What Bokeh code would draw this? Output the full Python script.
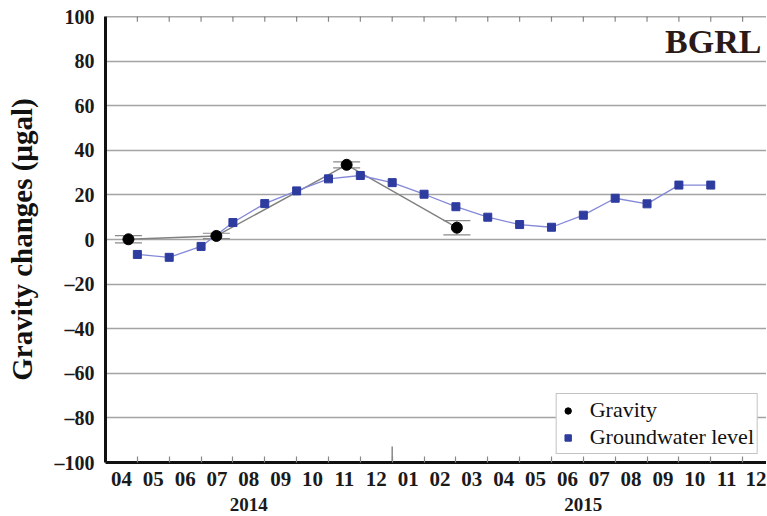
from bokeh.plotting import figure
from bokeh.models import (ColumnDataSource, FixedTicker, LinearAxis, Range1d, Whisker,
                          TeeHead, Label, Legend, LegendItem, Span)
from bokeh.embed import file_html
from bokeh.resources import INLINE

# ---------------- data ----------------
month_labels = ["04", "05", "06", "07", "08", "09", "10", "11", "12",
                "01", "02", "03", "04", "05", "06", "07", "08", "09", "10", "11", "12"]
year_labels = ["2014", "2015"]
year_month_counts = [9, 12]

# groundwater level (month index from 2014-04-01)
gw_month = [1, 2, 3, 4, 5, 6, 7, 8, 9, 10, 11, 12, 13, 14, 15, 16, 17, 18, 19]
gw_value = [-6.7, -8.0, -3.1, 7.6, 16.1, 21.8, 27.2, 28.7, 25.5, 20.3,
            14.7, 10.0, 6.7, 5.5, 10.9, 18.5, 16.0, 24.4, 24.4]

# gravity observations
grav_month = [0.72, 3.48, 7.57, 11.03]
grav_value = [0.1, 1.6, 33.5, 5.3]
grav_err = [1.6, 1.2, 1.35, 3.2]

y_ticks = [-100, -80, -60, -40, -20, 0, 20, 40, 60, 80, 100]
y_tick_labels = ["\u2013100", "\u201380", "\u201360", "\u201340", "\u201320", "0",
                 "20", "40", "60", "80", "100"]

FONT = "Liberation Serif"

# derived
n_months = len(month_labels)
month_centers = [i + 0.5 for i in range(n_months)]
month_bounds = list(range(n_months + 1))
year_edges = [0]
for c in year_month_counts:
    year_edges.append(year_edges[-1] + c)
year_centers = [(year_edges[i] + year_edges[i + 1]) / 2 for i in range(len(year_labels))]
year_breaks = year_edges[1:-1]

Y0, Y1 = y_ticks[0], y_ticks[-1]
X0, X1 = 0, 20.75

gw_src = ColumnDataSource(dict(x=gw_month, y=gw_value))
grav_src = ColumnDataSource(dict(
    x=grav_month, y=grav_value,
    lo=[v - e for v, e in zip(grav_value, grav_err)],
    hi=[v + e for v, e in zip(grav_value, grav_err)]))

p = figure(width=766, height=515, x_range=Range1d(X0, X1), y_range=Range1d(Y0, Y1),
           output_backend="svg", toolbar_location=None,
           min_border_left=105, min_border_right=0, min_border_top=16, min_border_bottom=53)
p.outline_line_color = None
p.xgrid.visible = False
p.ygrid.ticker = FixedTicker(ticks=y_ticks)
p.ygrid.grid_line_color = "#a3a3a3"
p.ygrid.grid_line_width = 1.3

# left axis
ya = p.yaxis[0]
ya.ticker = FixedTicker(ticks=y_ticks)
ya.major_label_overrides = {t: l for t, l in zip(y_ticks, y_tick_labels)}
ya.major_label_text_font = FONT
ya.major_label_text_font_style = "bold"
ya.major_label_text_font_size = "20px"
ya.major_label_text_color = "#1a1a1a"
ya.major_tick_in = 0
ya.major_tick_out = 0
ya.minor_tick_line_color = None
ya.major_label_standoff = 11
ya.axis_line_width = 3
ya.axis_line_color = "#111111"
ya.axis_label = "Gravity changes (\u00b5gal)"
ya.axis_label_text_font = FONT
ya.axis_label_text_font_style = "bold"
ya.axis_label_text_font_size = "29px"
ya.axis_label_text_color = "#111111"
ya.axis_label_standoff = 14

# bottom month axis
xa = p.xaxis[0]
xa.ticker = FixedTicker(ticks=month_centers, minor_ticks=month_bounds)
xa.major_label_overrides = {c: l for c, l in zip(month_centers, month_labels)}
xa.major_label_text_font = FONT
xa.major_label_text_font_style = "bold"
xa.major_label_text_font_size = "21px"
xa.major_label_text_color = "#1a1a1a"
xa.major_tick_in = 0
xa.major_tick_out = 0
xa.minor_tick_in = 6
xa.minor_tick_out = 0
xa.minor_tick_line_color = "#888888"
xa.minor_tick_line_width = 1.2
xa.major_label_standoff = 9
xa.axis_line_width = 3
xa.axis_line_color = "#111111"

# year axis
year_axis = LinearAxis(ticker=FixedTicker(ticks=year_centers),
                       major_label_overrides={c: l for c, l in zip(year_centers, year_labels)},
                       axis_line_color=None, major_tick_line_color=None,
                       minor_tick_line_color=None, major_label_standoff=3,
                       major_label_text_font=FONT, major_label_text_font_style="bold",
                       major_label_text_font_size="19px", major_label_text_color="#1a1a1a")
p.add_layout(year_axis, "below")

# top border and inward ticks
p.add_layout(Span(location=Y1, dimension="width", line_color="#555555", line_width=1.6))
top_tick_len = 2.3
p.segment(x0=month_bounds, y0=[Y1] * len(month_bounds), x1=month_bounds,
          y1=[Y1 - top_tick_len] * len(month_bounds), line_color="#888888", line_width=1.2)

# long tick at year break
p.segment(x0=year_breaks, y0=[Y0] * len(year_breaks), x1=year_breaks,
          y1=[Y0 + 7.2] * len(year_breaks), line_color="#888888", line_width=1.5)

# lines
p.line("x", "y", source=grav_src, line_color="#808080", line_width=1.4)
p.line("x", "y", source=gw_src, line_color="#8388d8", line_width=1.3)

# error bars
p.add_layout(Whisker(source=grav_src, base="x", lower="lo", upper="hi", dimension="height",
                     line_color="#8a8a8a", line_width=1,
                     lower_head=TeeHead(size=27, line_color="#8a8a8a", line_width=1.2),
                     upper_head=TeeHead(size=27, line_color="#8a8a8a", line_width=1.2)))

gw_sc = p.scatter("x", "y", source=gw_src, marker="square", size=8,
                  fill_color="#2d3c9e", line_color="#2d3c9e")
grav_sc = p.scatter("x", "y", source=grav_src, marker="circle", size=11,
                    fill_color="#000000", line_color="#000000")

legend = Legend(items=[LegendItem(label="Gravity", renderers=[grav_sc]),
                       LegendItem(label="Groundwater level", renderers=[gw_sc])],
                location="bottom_right", margin=8, padding=3, spacing=1,
                label_text_font=FONT, label_text_font_size="22px",
                label_text_color="#111111", label_height=25, glyph_height=25,
                glyph_width=16, label_standoff=14,
                border_line_color="#888888", border_line_width=1.5,
                background_fill_color="white", background_fill_alpha=1)
p.add_layout(legend)

p.add_layout(Label(x=20.59, y=88.7, text="BGRL", text_align="right",
                   text_baseline="alphabetic", text_font=FONT, text_font_style="bold",
                   text_font_size="34px", text_color="#2a1a18"))

open("out.html", "w").write(file_html(p, INLINE))
